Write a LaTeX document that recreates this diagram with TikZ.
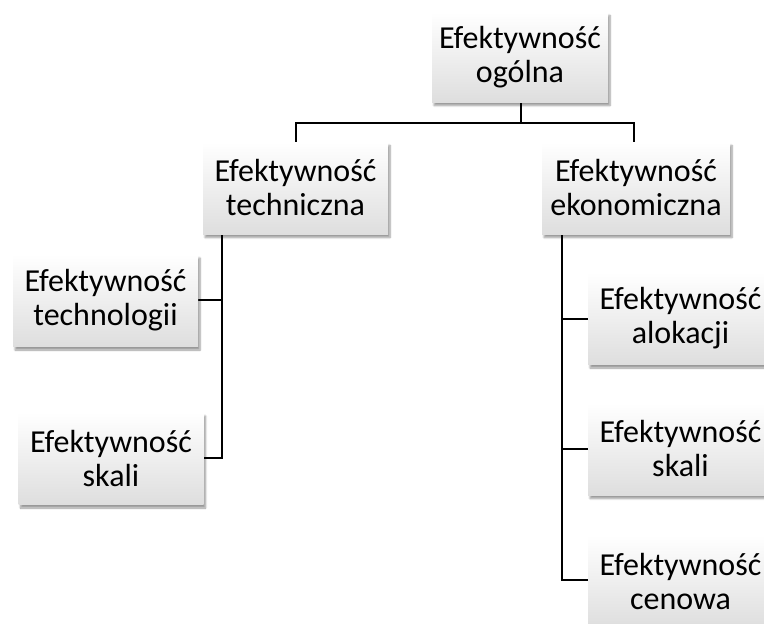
\documentclass[tikz,border=0pt]{standalone}
\usepackage{fontspec}
\setmainfont{Carlito}
\usetikzlibrary{shadows.blur}
\tikzset{
  box/.style={rectangle, minimum width=185pt, minimum height=92pt, inner sep=0pt,
    align=center, font=\fontsize{32}{34}\selectfont,
    top color=white, bottom color=black!13,
    blur shadow={shadow xshift=2pt, shadow yshift=-3.5pt, shadow blur steps=6, shadow blur extra rounding=0pt, shadow opacity=40}},
  conn/.style={line width=2.9pt, line cap=rect}
}
\begin{document}
\begin{tikzpicture}[x=1pt,y=-1pt]
\useasboundingbox (0,0) rectangle (764,624);
\clip (0,0) rectangle (764,624);
% connectors
\coordinate (hl) at (296,123);
\coordinate (hr) at (634,123);
\coordinate (vl) at (222,458);
\coordinate (vr) at (562,580);
\draw[conn] (521,102) -- (521,123);
\draw[conn] (296,142) -- (hl) -- (hr) -- (634,142);
\draw[conn] (222,234) -- (vl) -- (203,458);
\draw[conn] (198,300) -- (222,300);
\draw[conn] (562,234) -- (vr) -- (588,580);
\draw[conn] (562,319) -- (588,319);
\draw[conn] (562,449) -- (588,449);
% nodes
\node[box, minimum width=176pt, minimum height=90pt] (top) at (520,57) {Efektywność\\ogólna};
\node[box] (tech) at (295.5,188) {Efektywność\\techniczna};
\node[box, minimum width=188pt] (eko) at (636,188) {Efektywność\\ekonomiczna};
\node[box] (techno) at (105.5,300.5) {Efektywność\\technologii};
\node[box] (skalil) at (111,458.5) {Efektywność\\skali};
\node[box] (alok) at (680.5,318.5) {Efektywność\\alokacji};
\node[box] (skalir) at (680.5,449) {Efektywność\\skali};
\node[box] (cen) at (680.5,581.5) {Efektywność\\cenowa};
\end{tikzpicture}
\end{document}
